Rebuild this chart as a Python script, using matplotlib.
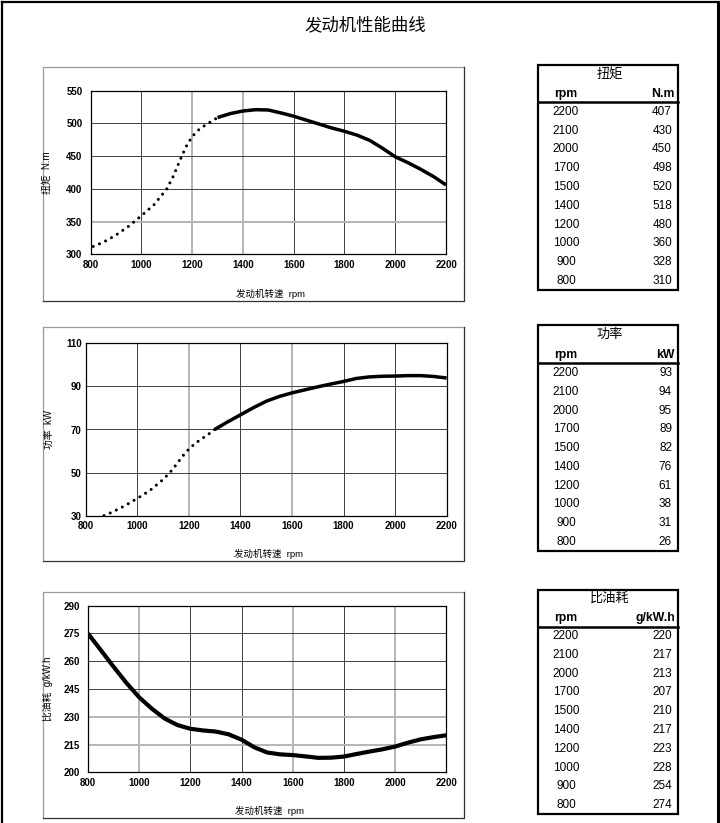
import matplotlib
matplotlib.use("Agg")
import matplotlib.pyplot as plt
from matplotlib.patches import Rectangle

plt.rcParams['font.family'] = ['Liberation Sans', 'Noto Sans CJK SC', 'DejaVu Sans']

W, H = 720, 823

# 曲线数据
rpm_t_dot = [810, 850, 900, 950, 1000, 1050, 1100, 1125, 1150, 1175, 1200, 1225, 1250, 1275, 1300]
torque_dot = [312, 318.5, 329.5, 343, 359, 376, 400, 419, 442, 464, 480, 490, 497, 503, 509]
rpm_t_sol = [1300, 1350, 1400, 1450, 1500, 1550, 1600, 1650, 1700, 1750, 1800, 1850, 1900, 1950, 2000, 2050, 2100, 2150, 2200]
torque_sol = [509, 515, 519, 521, 520.5, 516, 511, 505, 499, 493, 488, 482, 474, 462, 449, 440, 430, 419, 406]

rpm_p_dot = [800, 850, 900, 950, 1000, 1050, 1100, 1125, 1150, 1175, 1200, 1225, 1250, 1275, 1300]
power_dot = [26, 29, 31.5, 34.5, 38, 41.8, 46.8, 49.8, 53.5, 57.5, 60.9, 63.6, 65.7, 67.7, 70]
rpm_p_sol = [1300, 1350, 1400, 1450, 1500, 1550, 1600, 1650, 1700, 1750, 1800, 1850, 1900, 1950, 2000, 2050, 2100, 2150, 2200]
power_sol = [70, 73.5, 76.8, 80.1, 83.1, 85.3, 87, 88.4, 89.8, 91.1, 92.3, 93.7, 94.4, 94.7, 94.8, 95, 95, 94.6, 93.9]

rpm_b = [800, 850, 900, 950, 1000, 1050, 1100, 1150, 1200, 1250, 1300, 1350, 1400, 1450, 1500, 1550,
         1600, 1650, 1700, 1750, 1800, 1850, 1900, 1950, 2000, 2050, 2100, 2150, 2200]
bsfc = [275, 266, 257, 248.3, 240.5, 234.3, 229, 225.5, 223.5, 222.6, 222, 220.5, 217.6, 213.5, 210.7, 209.7,
        209.3, 208.6, 207.8, 207.9, 208.5, 209.9, 211.2, 212.4, 213.9, 216, 217.8, 219, 220]

# 表格数据
table_rpm = [2200, 2100, 2000, 1700, 1500, 1400, 1200, 1000, 900, 800]
table_torque = [407, 430, 450, 498, 520, 518, 480, 360, 328, 310]
table_power = [93, 94, 95, 89, 82, 76, 61, 38, 31, 26]
table_bsfc = [220, 217, 213, 207, 210, 217, 223, 228, 254, 274]

fig = plt.figure(figsize=(W / 100, H / 100), dpi=100)
bg = fig.add_axes([0, 0, 1, 1])
bg.set_xlim(0, W)
bg.set_ylim(H, 0)
bg.axis('off')
px = bg.transData

# 外框
bg.plot([1.5, 1.5], [H, 1.5], color='black', lw=1.6)
bg.plot([1.5, 717.5], [1.5, 1.5], color='black', lw=1.6)
bg.plot([717.5, 717.5], [1.5, H], color='black', lw=2.2)

bg.text(365, 25, '发动机性能曲线', ha='center', va='center', fontsize=12.5)


def add_chart(box, area, ylim, yticks, ylabel, ylab_x, xlab_y, light_x, light_y, ypad):
    x0, y0, x1, y1 = box
    bg.plot([x0, x0, x1], [y1, y0, y0], color='#9a9a9a', lw=0.9)
    bg.plot([x0, x1, x1], [y1, y1, y0], color='#303030', lw=0.9)
    l, t, r, b = area
    ax = fig.add_axes([l / W, 1 - b / H, (r - l) / W, (b - t) / H])
    ax.set_xlim(800, 2200)
    ax.set_ylim(*ylim)
    ax.set_xticks(range(800, 2201, 200))
    ax.set_yticks(yticks)
    for v in range(1000, 2200, 200):
        if v in light_x:
            ax.axvline(v, color='#b4b4b4', lw=1.4, zorder=1)
        else:
            ax.axvline(v, color='#404040', lw=0.7, zorder=1)
    for v in yticks[1:-1]:
        if v in light_y:
            ax.axhline(v, color='#b4b4b4', lw=1.4, zorder=1)
        else:
            ax.axhline(v, color='#404040', lw=0.7, zorder=1)
    for s in ax.spines.values():
        s.set_linewidth(0.9)
    ax.tick_params(length=0, labelsize=7, pad=4)
    ax.tick_params(axis='y', pad=ypad)
    for lab in ax.get_xticklabels() + ax.get_yticklabels():
        lab.set_fontweight('bold')
    ax.set_ylabel(ylabel, fontsize=7)
    ax.yaxis.set_label_coords(ylab_x, (t + b) / 2, transform=px)
    ax.set_xlabel('发动机转速  rpm', fontsize=6.8)
    ax.xaxis.set_label_coords((l + r) / 2 + 2, xlab_y, transform=px)
    return ax


dot_kw = dict(color='black', lw=2.2, linestyle=(0, (0.01, 2.2)), dash_capstyle='round', zorder=3)
sol_kw = dict(color='black', lw=2.5, solid_capstyle='butt', zorder=3)

ax1 = add_chart((42.5, 66.7, 464, 300.5), (90.7, 90.7, 446, 254.3), (300, 550),
                [300, 350, 400, 450, 500, 550], '扭矩  N.m', 52, 289, [1200, 1400], [350], 6)
ax1.plot(rpm_t_dot, torque_dot, **dot_kw)
ax1.plot(rpm_t_sol, torque_sol, **sol_kw)

ax2 = add_chart((42.5, 327, 464, 561), (85.7, 343.3, 446.7, 515.7), (30, 110),
                [30, 50, 70, 90, 110], '功率  kW', 54, 549, [1200, 1600], [], 3)
ax2.plot(rpm_p_dot, power_dot, **dot_kw)
ax2.plot(rpm_p_sol, power_sol, **sol_kw)

ax3 = add_chart((42.5, 592, 464, 818), (88, 605.7, 446.3, 772.3), (200, 290),
                [200, 215, 230, 245, 260, 275, 290], '比油耗  g/kW.h', 53, 806, [1000, 1600, 2000], [215, 230], 6)
ax3.plot(rpm_b, bsfc, color='black', lw=3, solid_capstyle='butt', zorder=3)


def add_table(top, bottom, sep, title_y, head_y, row0, step, title, unit, values):
    x0, x1 = 538, 678
    bg.add_patch(Rectangle((x0, top), x1 - x0, bottom - top, fill=False, ec='black', lw=1.6))
    bg.plot([x0, x1], [sep, sep], color='black', lw=1.8)
    bg.text((x0 + x1) / 2 + 2, title_y, title, ha='center', va='center', fontsize=9.5)
    bg.text(566, head_y, 'rpm', ha='center', va='center', fontsize=8.8, fontweight='bold')
    bg.text(675, head_y, unit, ha='right', va='center', fontsize=8.8, fontweight='bold')
    for i, (r, v) in enumerate(zip(table_rpm, values)):
        y = row0 + i * step
        bg.text(566, y, str(r), ha='center', va='center', fontsize=8.5)
        bg.text(672, y, str(v), ha='right', va='center', fontsize=8.5)


add_table(65, 290, 102, 75, 93.5, 111.7, 18.8, '扭矩', 'N.m', table_torque)
add_table(325, 551, 362.7, 335, 355, 373.3, 18.7, '功率', 'kW', table_power)
add_table(590, 814, 626.7, 599, 618.3, 636, 18.8, '比油耗', 'g/kW.h', table_bsfc)

fig.savefig('out.png', dpi=100)
